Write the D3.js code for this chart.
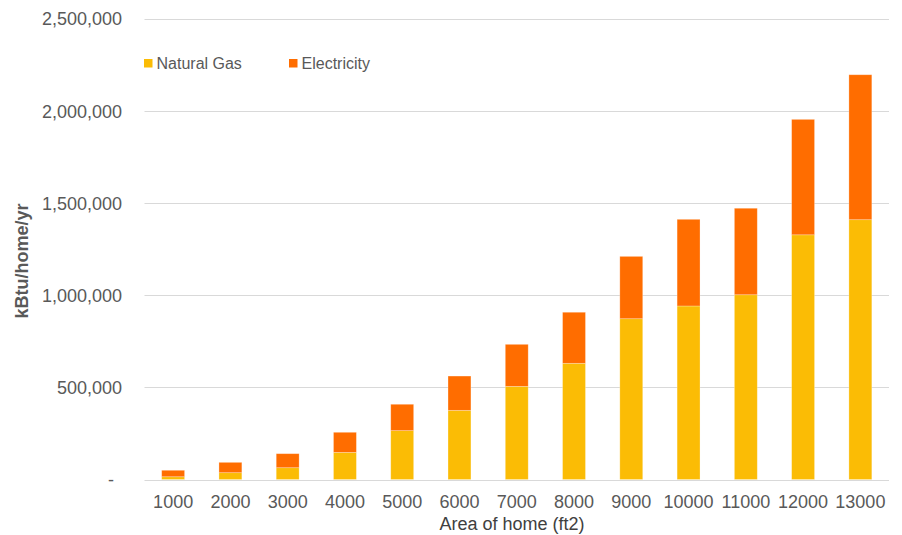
<!DOCTYPE html>
<html>
<head>
<meta charset="utf-8">
<script src="https://cdn.jsdelivr.net/npm/d3@7/dist/d3.min.js"></script>
<style>
  html, body { margin: 0; padding: 0; background: #fff; }
  svg { display: block; font-family: "Liberation Sans", Arial, sans-serif; }
</style>
</head>
<body>
<svg id="chart" width="902" height="535"></svg>
<script>
const categories = ["1000","2000","3000","4000","5000","6000","7000","8000","9000","10000","11000","12000","13000"];
const naturalGas = [15000, 37000, 64000, 147000, 265000, 375000, 505000, 630000, 872000, 941000, 1002000, 1327000, 1409000];
const electricity = [35000, 56000, 76000, 109000, 143000, 186000, 228000, 277000, 338000, 470000, 469000, 626000, 786000];
const seriesNames = ["Natural Gas", "Electricity"];
const seriesColors = ["#FBBC05", "#FF6D00"];
const yTicks = [0, 500000, 1000000, 1500000, 2000000, 2500000];

(function () {
const svg = d3.select("#chart");
const pLeft = 144.5, pRight = 889, pTop = 18.5, pBottom = 479.5;

const x = d3.scaleBand().domain(categories).range([pLeft, pRight]).paddingInner(0.6).paddingOuter(0.3);
const y = d3.scaleLinear().domain([0, 2500000]).range([pBottom, pTop]);

// gridlines
svg.append("g").selectAll("line").data(yTicks).join("line")
  .attr("x1", pLeft).attr("x2", pRight)
  .attr("y1", d => Math.round(y(d)) + 0.5).attr("y2", d => Math.round(y(d)) + 0.5)
  .attr("stroke", "#d9d9d9").attr("stroke-width", 1);

// y axis labels
const yAxis = d3.axisLeft(y).tickValues(yTicks).tickSize(0).tickPadding(0)
  .tickFormat(d => d === 0 ? "-" : d3.format(",")(d));
const gy = svg.append("g").attr("transform", `translate(122,0)`).call(yAxis);
gy.select(".domain").remove();
gy.selectAll("text").attr("fill", "#595959").attr("font-size", "18px")
  .attr("font-family", "Liberation Sans, Arial, sans-serif").attr("dy", "0.35em");
gy.selectAll(".tick").filter(d => d === 0).select("text").attr("x", -8);

// x axis labels
const xAxis = d3.axisBottom(x).tickSize(0).tickPadding(0);
const gx = svg.append("g").attr("transform", `translate(0,${pBottom})`).call(xAxis);
gx.select(".domain").remove();
gx.selectAll("text").attr("fill", "#595959").attr("font-size", "18px")
  .attr("font-family", "Liberation Sans, Arial, sans-serif").attr("dy", null).attr("y", 28.5);

// stacked bars
const rows = categories.map((c, i) => ({cat: c, gas: naturalGas[i], elec: electricity[i]}));
const stack = d3.stack().keys(["gas", "elec"])(rows);
svg.append("g").selectAll("g").data(stack).join("g")
  .attr("fill", (d, i) => seriesColors[i])
  .selectAll("rect").data(d => d).join("rect")
  .attr("x", d => x(d.data.cat))
  .attr("width", x.bandwidth())
  .attr("y", d => y(d[1]))
  .attr("height", d => y(d[0]) - y(d[1]))
  .attr("stroke", "rgba(255,255,255,0.35)").attr("stroke-width", 0.75);

// legend
const legendX = [144, 289];
const lg = svg.append("g");
seriesNames.forEach((name, i) => {
  lg.append("rect").attr("x", legendX[i]).attr("y", 59).attr("width", 8.5).attr("height", 8.5)
    .attr("fill", seriesColors[i]);
  lg.append("text").attr("x", legendX[i] + 12.5).attr("y", 68.5)
    .attr("font-size", "16px").attr("fill", "#595959").text(name);
});

// axis titles
svg.append("text").attr("transform", `translate(28,261) rotate(-90)`)
  .attr("text-anchor", "middle").attr("font-size", "18px").attr("font-weight", "bold")
  .attr("fill", "#595959").text("kBtu/home/yr");
svg.append("text").attr("x", 512).attr("y", 530)
  .attr("text-anchor", "middle").attr("font-size", "18px")
  .attr("fill", "#404040").text("Area of home (ft2)");
})();
</script>
</body>
</html>
